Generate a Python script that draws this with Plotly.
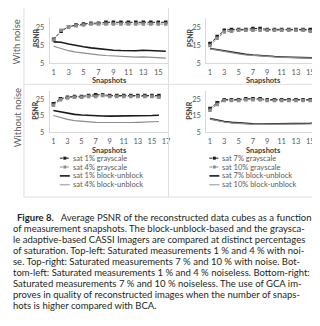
import plotly.graph_objects as go

W, H = 320, 326

snapshots = list(range(1, 17))
x_ticks_top = [1, 3, 5, 7, 9, 11, 13, 15]
x_ticks_bl = [1, 3, 5, 7, 9, 11, 13, 15, 17]
y_ticks = [5, 15, 25]

# Top-left: with noise, saturation 1% / 4%
gray1_noise = [18.5, 23.0, 25.5, 26.5, 27.0, 27.5, 27.5, 28.0, 28.0, 28.0, 28.0, 28.0, 28.0, 28.0, 28.0, 28.0]
gray4_noise = [18.0, 23.5, 25.5, 26.0, 26.5, 27.0, 27.0, 27.0, 27.0, 27.0, 27.0, 27.0, 27.0, 27.0, 27.0, 27.0]
block1_noise = [17.0, 16.8, 15.8, 14.9, 14.2, 13.6, 13.1, 12.7, 12.3, 12.1, 12.0, 12.0, 12.3, 12.1, 11.9, 11.7]
block4_noise = [14.5, 13.2, 12.0, 11.2, 10.6, 10.1, 9.7, 9.3, 9.0, 8.8, 8.6, 8.4, 8.5, 8.3, 8.0, 7.8]

# Top-right: with noise, saturation 7% / 10%
gray7_noise = [16.0, 20.0, 23.5, 24.0, 24.0, 24.0, 24.5, 24.5, 24.0, 24.0, 24.0, 24.0, 24.0, 24.0, 24.0, 24.5]
gray10_noise = [15.0, 19.0, 22.5, 23.0, 23.5, 23.5, 23.5, 23.5, 23.5, 23.5, 23.5, 23.5, 23.5, 23.5, 23.0, 23.5]
block7_noise = [13.2, 12.5, 11.8, 11.1, 10.5, 10.0, 9.6, 9.2, 8.9, 8.7, 8.5, 8.4, 8.4, 8.3, 8.1, 7.9]
block10_noise = [13.0, 12.2, 11.5, 10.8, 10.2, 9.7, 9.3, 9.0, 8.7, 8.5, 8.3, 8.2, 8.2, 8.1, 7.9, 7.7]

# Bottom-left: noiseless, saturation 1% / 4%
gray1_clean = [22.5, 25.5, 26.5, 27.0, 27.0, 27.5, 28.0, 28.0, 27.5, 27.5, 27.5, 27.5, 27.5, 27.5, 27.5, 27.5]
gray4_clean = [21.5, 25.0, 26.0, 26.5, 26.5, 27.0, 27.0, 27.5, 27.0, 27.0, 27.0, 27.0, 27.0, 27.0, 27.0, 26.5]
block1_clean = [18.3, 17.4, 16.5, 15.9, 15.5, 15.2, 15.0, 14.9, 14.8, 14.8, 14.8, 14.9, 15.0, 15.1, 15.2, 15.4]
block4_clean = [15.2, 13.8, 12.8, 12.1, 11.6, 11.2, 11.0, 10.9, 10.8, 10.8, 10.8, 10.9, 11.0, 11.1, 11.3, 11.5]

# Bottom-right: noiseless, saturation 7% / 10%
gray7_clean = [19.5, 23.0, 25.0, 25.0, 25.0, 25.5, 25.5, 25.5, 25.0, 25.0, 25.0, 25.0, 25.0, 25.0, 25.0, 25.0]
gray10_clean = [18.5, 22.0, 24.5, 24.5, 24.5, 25.0, 25.0, 25.0, 24.5, 24.5, 24.5, 24.5, 24.5, 24.5, 24.5, 24.5]
block7_clean = [13.3, 12.3, 11.5, 11.0, 10.6, 10.3, 10.1, 10.0, 10.0, 10.0, 10.0, 10.1, 10.2, 10.3, 10.4, 10.6]
block10_clean = [13.0, 12.0, 11.2, 10.7, 10.3, 10.0, 9.8, 9.7, 9.7, 9.7, 9.7, 9.8, 9.9, 10.0, 10.1, 10.3]

legend_left = ["sat 1% grayscale", "sat 4% grayscale", "sat 1% block-unblock", "sat 4% block-unblock"]
legend_right = ["sat 7% grayscale", "sat 10% grayscale", "sat 7% block-unblock", "sat 10% block-unblock"]
row_labels = ["With noise", "Without noise"]

caption_lines = [
    "<b>Figure 8.</b>   Average PSNR of the reconstructed data cubes as a function",
    "of measurement snapshots. The block-unblock-based and the graysca-",
    "le adaptive-based CASSI Imagers are compared at distinct percentages",
    "of saturation. Top-left: Saturated measurements 1\u202f% and 4\u202f% with noi-",
    "se. Top-right: Saturated measurements 7\u202f% and 10\u202f% with noise. Bot-",
    "tom-left: Saturated measurements 1\u202f% and 4\u202f% noiseless. Bottom-right:",
    "Saturated measurements 7\u202f% and 10\u202f% noiseless. The use of GCA im-",
    "proves in quality of reconstructed images when the number of snaps-",
    "hots is higher compared with BCA.",
]

def px(x):
    return x / W

def py(y):
    return 1 - y / H

FONT = "Lato"
TXT = "#595959"
C_BLACK = "#1a1a1a"
C_GRAY = "#8c8c8c"
C_GRAY_L = "#a6a6a6"

styles = [
    dict(mode="lines+markers", line=dict(color=C_BLACK, width=1, dash="3px,1.5px"),
         marker=dict(symbol="square", size=3.5, color=C_BLACK)),
    dict(mode="lines+markers", line=dict(color=C_GRAY, width=1, dash="3px,1.5px"),
         marker=dict(symbol="square", size=3.5, color=C_GRAY)),
    dict(mode="lines", line=dict(color=C_BLACK, width=1.6)),
    dict(mode="lines", line=dict(color=C_GRAY, width=1.2)),
]

panels = [
    ("x", "y", [gray1_noise, gray4_noise, block1_noise, block4_noise], legend_left),
    ("x2", "y2", [gray7_noise, gray10_noise, block7_noise, block10_noise], legend_right),
    ("x3", "y3", [gray1_clean, gray4_clean, block1_clean, block4_clean], legend_left),
    ("x4", "y4", [gray7_clean, gray10_clean, block7_clean, block10_clean], legend_right),
]

fig = go.Figure()
for xa, ya, series, names in panels:
    for vals, name, st in zip(series, names, styles):
        fig.add_trace(go.Scatter(x=snapshots, y=vals, name=name, xaxis=xa, yaxis=ya,
                                 showlegend=False, **st))

top_y = [py(56), py(10)]
bot_y = [py(126), py(84)]
left_x = [px(42), px(162)]
right_x = [px(199), px(314)]

def xaxis(domain, anchor, rng, tickvals):
    return dict(domain=domain, anchor=anchor, range=rng, tickvals=tickvals,
                showgrid=False, zeroline=False, showline=True, linecolor="#d9d9d9",
                linewidth=1, ticks="", ticklabelstandoff=2,
                tickfont=dict(family=FONT, size=7.5, color=TXT))

def yaxis(domain, anchor):
    return dict(domain=domain, anchor=anchor, range=[5, 30.5], tickvals=y_ticks,
                showgrid=False, zeroline=False, showline=True, linecolor="#d9d9d9",
                linewidth=1, ticks="", ticklabelstandoff=3,
                tickfont=dict(family=FONT, size=7.5, color=TXT))

fig.update_layout(
    width=W, height=H, margin=dict(l=0, r=0, t=0, b=0),
    paper_bgcolor="white", plot_bgcolor="white", showlegend=False,
    xaxis=xaxis(left_x, "y", [0.5, 16.5], x_ticks_top),
    yaxis=yaxis(top_y, "x"),
    xaxis2=xaxis(right_x, "y2", [0.5, 16.5], x_ticks_top),
    yaxis2=yaxis(top_y, "x2"),
    xaxis3=xaxis(left_x, "y3", [0.5, 17.5], x_ticks_bl),
    yaxis3=yaxis(bot_y, "x3"),
    xaxis4=xaxis(right_x, "y4", [0.5, 16.5], x_ticks_top),
    yaxis4=yaxis(bot_y, "x4"),
)

ann = []
shapes = []

# panel borders
bc = "#dedede"
shapes += [
    dict(type="line", xref="paper", yref="paper", x0=px(16), x1=px(16), y0=py(0), y1=py(192), line=dict(color=bc, width=1)),
    dict(type="line", xref="paper", yref="paper", x0=px(161), x1=px(161), y0=py(0), y1=py(192), line=dict(color=bc, width=1)),
    dict(type="line", xref="paper", yref="paper", x0=px(16), x1=px(320), y0=py(77.5), y1=py(77.5), line=dict(color=bc, width=1)),
    dict(type="line", xref="paper", yref="paper", x0=px(16), x1=px(320), y0=py(192), y1=py(192), line=dict(color=bc, width=1)),
]

def note(text, x, y, size, color, angle=0, xanchor="center"):
    return dict(text=text, x=px(x), y=py(y), xref="paper", yref="paper", showarrow=False,
                xanchor=xanchor, yanchor="middle", textangle=angle,
                font=dict(family=FONT, size=size, color=color))

# row labels
for lbl, yc in zip(row_labels, [34, 111]):
    ann.append(note(lbl, 9, yc, 9.5, TXT, angle=-90))

# axis titles
for xc, yc in [(27.5, 30), (182, 30), (27.5, 104), (182, 104)]:
    ann.append(note("<b>PSNR</b>", xc, yc, 7, "#404040", angle=-90))
for xc, yc in [(102, 73.5), (256, 73.5), (102, 144.5), (256, 144.5)]:
    ann.append(note("<b>Snapshots</b>", xc, yc, 7.5, "#404040"))

# legends (drawn manually, compact symbol like the original)
leg_rows = [152.5, 161.5, 170.5, 179.5]
for names, x0 in [(legend_left, 52), (legend_right, 202)]:
    for i, (name, yy) in enumerate(zip(names, leg_rows)):
        st = styles[i]
        col = st["line"]["color"] if i != 3 else C_GRAY_L
        dash = "dot" if i < 2 else "solid"
        shapes.append(dict(type="line", xref="paper", yref="paper", x0=px(x0), x1=px(x0 + 10),
                           y0=py(yy), y1=py(yy),
                           line=dict(color=col, width=st["line"]["width"] if i >= 2 else 1, dash=dash)))
        if i < 2:
            shapes.append(dict(type="rect", xref="paper", yref="paper", x0=px(x0 + 3.5), x1=px(x0 + 6.5),
                               y0=py(yy + 1.5), y1=py(yy - 1.5), fillcolor=col, line=dict(width=0)))
        ann.append(note(name, x0 + 11, yy, 7.5, TXT, xanchor="left"))

# caption
cap_y = [213, 224.1, 235.2, 246.3, 257.4, 268.5, 279.6, 290.7, 301.8]
for i, (line, yy) in enumerate(zip(caption_lines, cap_y)):
    ann.append(note(line, 7 if i == 0 else 3, yy, 9.5, "#231f20", xanchor="left"))

fig.update_layout(annotations=ann, shapes=shapes)
fig.write_html("out.html")
